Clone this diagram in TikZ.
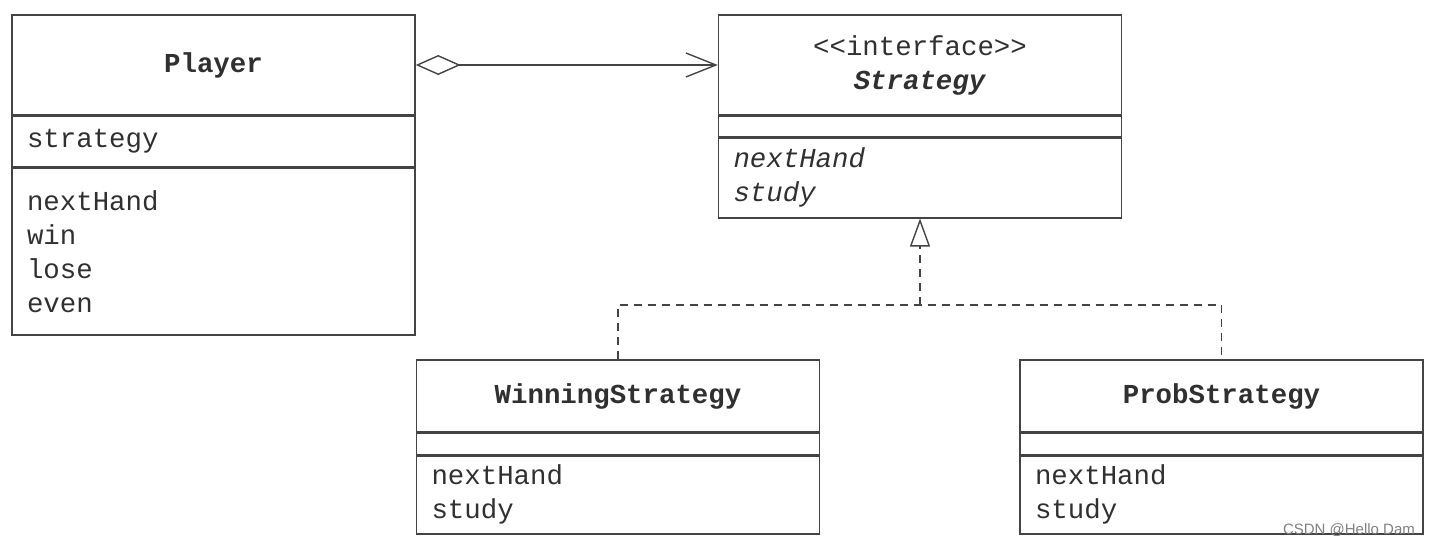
\documentclass[tikz,border=0pt]{standalone}
\usepackage{fontspec}
\setmainfont{Liberation Mono}
\setsansfont{Liberation Sans}
\usetikzlibrary{arrows.meta}

\definecolor{linegray}{HTML}{444444}
\definecolor{textgray}{HTML}{303030}

\tikzset{
  umlbox/.style={draw=linegray, line width=0.7pt, rectangle, inner sep=0pt,
    text=textgray, font=\fontsize{13.7}{17}\selectfont},
  classhead/.style={umlbox, align=center, minimum width=201.5pt},
  classpart/.style={umlbox, anchor=north, align=left, inner xsep=7.5pt,
    text width=186.5pt},
  aggr/.style={draw=linegray, line width=0.7pt,
    {Diamond[open,length=22.5pt,width=10pt]}-{Straight Barb[length=15pt,width=12pt]}},
  realize/.style={draw=linegray, line width=0.7pt, dash pattern=on 4pt off 3pt,
    -{Triangle[open,length=14pt,width=10pt]}},
  realizeline/.style={draw=linegray, line width=0.7pt, dash pattern=on 4pt off 3pt}
}

\begin{document}
\begin{tikzpicture}[x=0.5pt,y=-0.5pt]
\useasboundingbox (0,0) rectangle (1436,547);

% Player
\node[classhead, minimum height=50pt] (player) at (213.5,65) {\textbf{Player}};
\node[classpart, minimum height=25pt] (player-attr) at (player.south) {strategy};
\node[classpart, minimum height=83.5pt] (player-ops) at (player-attr.south) {nextHand\\win\\lose\\even};

% Strategy
\node[classhead, minimum height=50pt] (strategy) at (920,65) {<{}<interface>{}>\\\textbf{\textit{Strategy}}};
\node[classpart, minimum height=10pt] (strategy-attr) at (strategy.south) {};
\node[classpart, minimum height=40pt] (strategy-ops) at (strategy-attr.south) {\textit{nextHand}\\\textit{study}};

% WinningStrategy
\node[classhead, minimum height=36pt] (winning) at (618,396) {\textbf{WinningStrategy}};
\node[classpart, minimum height=10.5pt] (winning-attr) at (winning.south) {};
\node[classpart, minimum height=39pt] (winning-ops) at (winning-attr.south) {nextHand\\study};

% ProbStrategy
\node[classhead, minimum height=36pt] (prob) at (1221.5,396) {\textbf{ProbStrategy}};
\node[classpart, minimum height=10.5pt] (prob-attr) at (prob.south) {};
\node[classpart, minimum height=39pt] (prob-ops) at (prob-attr.south) {nextHand\\study};

% connectors
\draw[aggr] (player.east) -- (strategy.west);
\coordinate (fork) at (920,305);
\draw[realizeline] (winning.north) |- (fork) -| (prob.north);
\draw[realize] (fork) -- (strategy-ops.south);

\node[font=\sffamily\fontsize{7.5}{8}\selectfont, text=gray, anchor=east] (mark) at (1422,530) {CSDN @Hello Dam};
\end{tikzpicture}
\end{document}
